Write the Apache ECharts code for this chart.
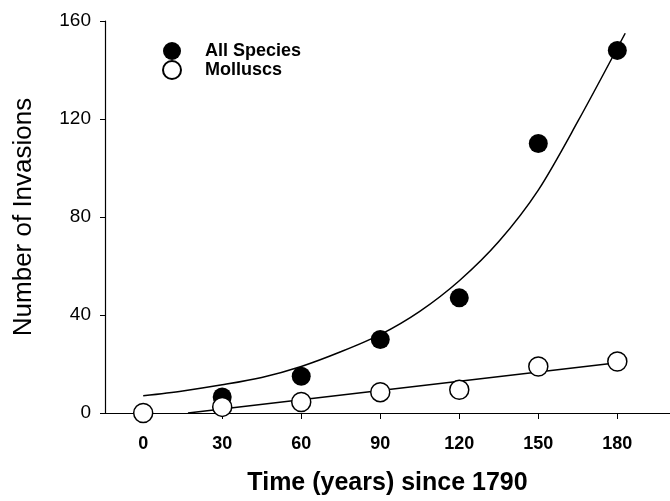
<!DOCTYPE html>
<html>
<head>
<meta charset="utf-8">
<script src="https://cdn.jsdelivr.net/npm/echarts@6/dist/echarts.min.js"></script>
<style>
  html, body { margin: 0; padding: 0; background: #fff; }
  #chart { width: 670px; height: 501px; }
</style>
</head>
<body>
<div id="chart"></div>
<script>
// data
const xTicks = [0, 30, 60, 90, 120, 150, 180];
const yTicks = [0, 40, 80, 120, 160];

const allX = [30, 60, 90, 120, 150, 180];
const allY = [6.5, 15, 30, 47, 110, 148];

const mollX = [0, 30, 60, 90, 120, 150, 180];
const mollY = [0, 2.5, 4.5, 8.5, 9.5, 19, 21];

// fitted curves
const allFitX = [0, 15, 30, 45, 60, 75, 90, 105, 120, 135, 150, 165, 183];
const allFitY = [7, 9, 11.5, 14.5, 19, 25, 32, 41.5, 54, 70, 91, 119, 155];
const mollFitX = [17, 180];
const mollFitY = [0, 20.5];

const font = 'Liberation Sans, Arial, Helvetica, sans-serif';
const zip = (xs, ys) => xs.map((x, i) => [x, ys[i]]);

const chart = echarts.init(document.getElementById('chart'));
chart.setOption({
  backgroundColor: '#fff',
  animation: false,
  textStyle: { fontFamily: font, color: '#000' },
  grid: { left: 105, right: 0, top: 21, bottom: 88, containLabel: false },
  legend: {
    data: ['All Species', 'Molluscs'],
    orient: 'vertical',
    left: 157,
    top: 37,
    itemWidth: 56,
    itemHeight: 18,
    itemGap: 0,
    textStyle: { fontFamily: font, fontSize: 18, fontWeight: 'bold', color: '#000' }
  },
  xAxis: {
    type: 'value',
    min: -14.5,
    max: 200,
    name: 'Time (years) since 1790',
    nameLocation: 'middle',
    nameGap: 58,
    nameTextStyle: { fontFamily: font, fontSize: 25, fontWeight: 'bold', color: '#000' },
    axisLine: { onZero: false, lineStyle: { color: '#000', width: 1.2 } },
    axisTick: { customValues: xTicks, length: 6, lineStyle: { color: '#000' } },
    axisLabel: { customValues: xTicks, margin: 22, fontSize: 18, fontWeight: 'bold', color: '#000' },
    splitLine: { show: false }
  },
  yAxis: {
    type: 'value',
    min: 0,
    max: 160,
    name: 'Number of Invasions',
    nameLocation: 'middle',
    nameGap: 68,
    nameTextStyle: { fontFamily: font, fontSize: 26, color: '#000' },
    axisLine: { onZero: false, lineStyle: { color: '#000', width: 1.2 } },
    axisTick: { customValues: yTicks, length: 5, lineStyle: { color: '#000' } },
    axisLabel: { customValues: yTicks, margin: 14, fontSize: 19, color: '#000' },
    splitLine: { show: false }
  },
  series: [
    {
      name: 'All Species fit',
      type: 'line',
      data: zip(allFitX, allFitY),
      smooth: 0.3,
      showSymbol: false,
      lineStyle: { color: '#000', width: 1.5 },
      z: 1
    },
    {
      name: 'Molluscs fit',
      type: 'line',
      data: zip(mollFitX, mollFitY),
      showSymbol: false,
      lineStyle: { color: '#000', width: 1.5 },
      z: 1
    },
    {
      name: 'All Species',
      type: 'scatter',
      data: zip(allX, allY),
      symbol: 'circle',
      symbolSize: 19,
      itemStyle: { color: '#000', opacity: 1 },
      z: 3
    },
    {
      name: 'Molluscs',
      type: 'scatter',
      data: zip(mollX, mollY),
      symbol: 'circle',
      symbolSize: 19,
      itemStyle: { color: '#fff', borderColor: '#000', borderWidth: 1.5, opacity: 1 },
      z: 4
    }
  ]
});
</script>
</body>
</html>
